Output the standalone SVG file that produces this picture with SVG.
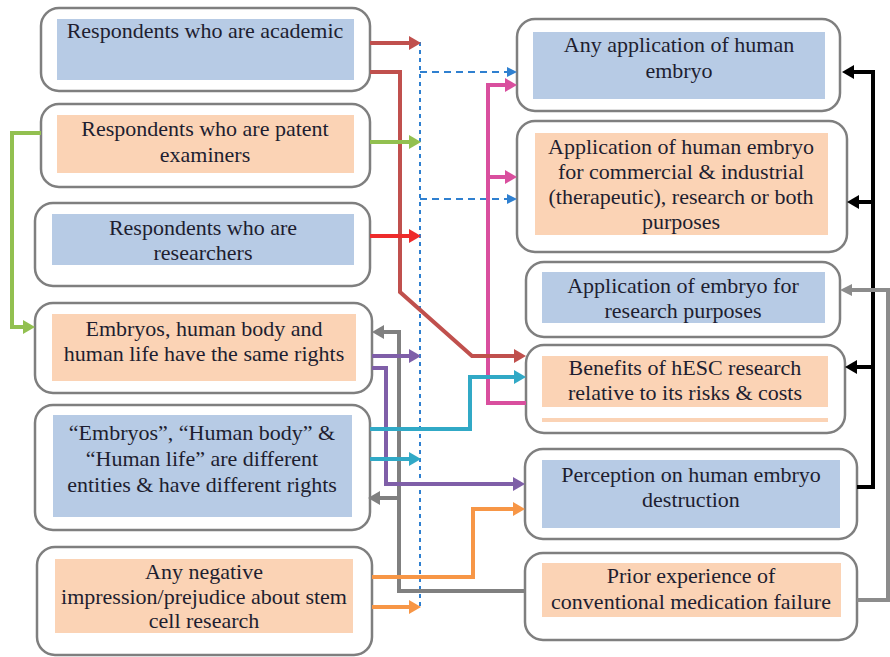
<svg xmlns="http://www.w3.org/2000/svg" width="890" height="657" viewBox="0 0 890 657" font-family="Liberation Serif, Times New Roman, Times, serif">
<style>
.box{fill:#fff;stroke:#7f7f7f;stroke-width:2.5}
.blue{fill:#b7cbe5}
.peach{fill:#fbd3b5}
text{font-size:22px;fill:#1e1e30;text-anchor:middle}
.c{fill:none;stroke-linejoin:miter;stroke-width:4}
</style>
<defs>
<marker id="aRed" viewBox="0 0 12 14" markerWidth="12" markerHeight="14" refX="4" refY="7" orient="auto" markerUnits="userSpaceOnUse"><path d="M0,0 L12,7 L0,14z" fill="#c0504d"/></marker>
<marker id="aBred" viewBox="0 0 12 14" markerWidth="12" markerHeight="14" refX="4" refY="7" orient="auto" markerUnits="userSpaceOnUse"><path d="M0,0 L12,7 L0,14z" fill="#ee2b2b"/></marker>
<marker id="aGreen" viewBox="0 0 12 14" markerWidth="12" markerHeight="14" refX="4" refY="7" orient="auto" markerUnits="userSpaceOnUse"><path d="M0,0 L12,7 L0,14z" fill="#92c050"/></marker>
<marker id="aMag" viewBox="0 0 12 14" markerWidth="12" markerHeight="14" refX="4" refY="7" orient="auto" markerUnits="userSpaceOnUse"><path d="M0,0 L12,7 L0,14z" fill="#d94f9e"/></marker>
<marker id="aGray" viewBox="0 0 12 14" markerWidth="12" markerHeight="14" refX="4" refY="7" orient="auto" markerUnits="userSpaceOnUse"><path d="M0,0 L12,7 L0,14z" fill="#808080"/></marker>
<marker id="aGray2" viewBox="0 0 12 12" markerWidth="12" markerHeight="12" refX="4" refY="6" orient="auto" markerUnits="userSpaceOnUse"><path d="M0,0 L12,6 L0,12z" fill="#8c8c8c"/></marker>
<marker id="aPur" viewBox="0 0 12 14" markerWidth="12" markerHeight="14" refX="4" refY="7" orient="auto" markerUnits="userSpaceOnUse"><path d="M0,0 L12,7 L0,14z" fill="#7f5fa8"/></marker>
<marker id="aCyan" viewBox="0 0 12 14" markerWidth="12" markerHeight="14" refX="4" refY="7" orient="auto" markerUnits="userSpaceOnUse"><path d="M0,0 L12,7 L0,14z" fill="#31a9c6"/></marker>
<marker id="aOr" viewBox="0 0 12 14" markerWidth="12" markerHeight="14" refX="4" refY="7" orient="auto" markerUnits="userSpaceOnUse"><path d="M0,0 L12,7 L0,14z" fill="#f79646"/></marker>
<marker id="aBlk" viewBox="0 0 12 14" markerWidth="12" markerHeight="14" refX="4" refY="7" orient="auto" markerUnits="userSpaceOnUse"><path d="M0,0 L12,7 L0,14z" fill="#000"/></marker>
<marker id="aBlue" viewBox="0 0 10 10" markerWidth="10" markerHeight="10" refX="3" refY="5" orient="auto" markerUnits="userSpaceOnUse"><path d="M0,0 L10,5 L0,10z" fill="#2f80d0"/></marker>
</defs>
<rect width="890" height="657" fill="#fff"/>

<g id="n-academic">
<rect class="box" x="41" y="8" width="329" height="83" rx="18"/>
<rect class="blue" x="57" y="19" width="297" height="61"/>
<text x="205" y="38">Respondents who are academic</text>
</g>
<g id="n-patent">
<rect class="box" x="41" y="104" width="329" height="83" rx="18"/>
<rect class="peach" x="57" y="115" width="297" height="58"/>
<text x="205" y="136">Respondents who are patent</text>
<text x="205" y="162">examiners</text>
</g>
<g id="n-researchers">
<rect class="box" x="35" y="203" width="335" height="83" rx="18"/>
<rect class="blue" x="52" y="214" width="302" height="51"/>
<text x="203" y="235">Respondents who are</text>
<text x="203" y="260">researchers</text>
</g>
<g id="n-same-rights">
<rect class="box" x="35" y="303" width="337" height="90" rx="18"/>
<rect class="peach" x="52" y="314" width="304" height="67"/>
<text x="204" y="336">Embryos, human body and</text>
<text x="204" y="361">human life have the same rights</text>
</g>
<g id="n-different">
<rect class="box" x="35" y="405" width="335" height="125" rx="18"/>
<rect class="blue" x="53" y="415" width="299" height="102"/>
<text x="202" y="440">“Embryos”, “Human body” &amp;</text>
<text x="202" y="466">“Human life” are different</text>
<text x="202" y="492">entities &amp; have different rights</text>
</g>
<g id="n-negative">
<rect class="box" x="37" y="547" width="335" height="108" rx="18"/>
<rect class="peach" x="55" y="559" width="298" height="74"/>
<text x="204" y="579">Any negative</text>
<text x="204" y="604">impression/prejudice about stem</text>
<text x="204" y="628">cell research</text>
</g>

<g id="m-any-application">
<rect class="box" x="517" y="19" width="323" height="92" rx="18"/>
<rect class="blue" x="533" y="32" width="292" height="67"/>
<text x="679" y="52">Any application of human</text>
<text x="679" y="78">embryo</text>
</g>
<g id="m-commercial">
<rect class="box" x="517" y="121" width="330" height="131" rx="18"/>
<rect class="peach" x="535" y="133" width="293" height="102"/>
<text x="681" y="154">Application of human embryo</text>
<text x="681" y="179">for commercial &amp; industrial</text>
<text x="681" y="204">(therapeutic), research or both</text>
<text x="681" y="229">purposes</text>
</g>
<g id="m-research">
<rect class="box" x="526" y="262" width="314" height="75" rx="18"/>
<rect class="blue" x="542" y="272" width="283" height="51"/>
<text x="683" y="293">Application of embryo for</text>
<text x="683" y="318">research purposes</text>
</g>
<g id="m-benefits">
<rect class="box" x="526" y="345" width="319" height="88" rx="18"/>
<rect class="peach" x="542" y="356" width="286" height="51"/>
<rect class="peach" x="542" y="418" width="286" height="4"/>
<text x="685" y="375">Benefits of hESC research</text>
<text x="685" y="400">relative to its risks &amp; costs</text>
</g>
<g id="m-perception">
<rect class="box" x="525" y="449" width="332" height="90" rx="18"/>
<rect class="blue" x="542" y="460" width="298" height="68"/>
<text x="691" y="482">Perception on human embryo</text>
<text x="691" y="507">destruction</text>
</g>
<g id="m-prior">
<rect class="box" x="525" y="553" width="332" height="87" rx="18"/>
<rect class="peach" x="542" y="563" width="299" height="54"/>
<text x="691" y="583">Prior experience of</text>
<text x="691" y="609">conventional medication failure</text>
</g>

<g id="connectors">
<path d="M420,42 V607" fill="none" stroke="#2f80d0" stroke-width="2" stroke-dasharray="4,4"/>
<path d="M420,72 H510" fill="none" stroke="#2f80d0" stroke-width="2" stroke-dasharray="7,5" marker-end="url(#aBlue)"/>
<path d="M420,199 H510" fill="none" stroke="#2f80d0" stroke-width="2" stroke-dasharray="7,5" marker-end="url(#aBlue)"/>
<path class="c" d="M526,403 H488 V85 H509" stroke="#d94f9e" stroke-width="5" marker-end="url(#aMag)"/>
<path class="c" d="M488,177 H509" stroke="#d94f9e" stroke-width="5" marker-end="url(#aMag)"/>
<path class="c" d="M370,43 H413" stroke="#c0504d" marker-end="url(#aRed)"/>
<path class="c" d="M370,72 H400 V292 L472,356 H518" stroke="#c0504d" marker-end="url(#aRed)"/>
<path class="c" d="M370,142 H413" stroke="#92c050" marker-end="url(#aGreen)"/>
<path class="c" d="M41,133 H12 V327 H27" stroke="#92c050" marker-end="url(#aGreen)"/>
<path class="c" d="M370,236 H413" stroke="#ee2b2b" marker-end="url(#aBred)"/>
<path class="c" d="M525,591 H399 V332 H380" stroke="#808080" marker-end="url(#aGray)"/>
<path class="c" d="M399,498 H376" stroke="#808080" marker-end="url(#aGray)"/>
<path class="c" d="M372,356 H413" stroke="#7f5fa8" marker-end="url(#aPur)"/>
<path class="c" d="M372,368 H386 V484 H517" stroke="#7f5fa8" marker-end="url(#aPur)"/>
<path class="c" d="M370,429 H470 V377 H518" stroke="#31a9c6" marker-end="url(#aCyan)"/>
<path class="c" d="M370,459 H413" stroke="#31a9c6" marker-end="url(#aCyan)"/>
<path class="c" d="M372,577 H473 V509 H517" stroke="#f79646" marker-end="url(#aOr)"/>
<path class="c" d="M372,607 H413" stroke="#f79646" marker-end="url(#aOr)"/>
<path class="c" d="M857,487 H873 V72 H850" stroke="#000" stroke-width="5" marker-end="url(#aBlk)"/>
<path class="c" d="M873,202 H855" stroke="#000" stroke-width="5" marker-end="url(#aBlk)"/>
<path class="c" d="M873,367 H853" stroke="#000" stroke-width="5" marker-end="url(#aBlk)"/>
<path class="c" d="M857,600 H888 V290 H848" stroke="#8c8c8c" stroke-width="3" marker-end="url(#aGray2)"/>
</g>
</svg>
